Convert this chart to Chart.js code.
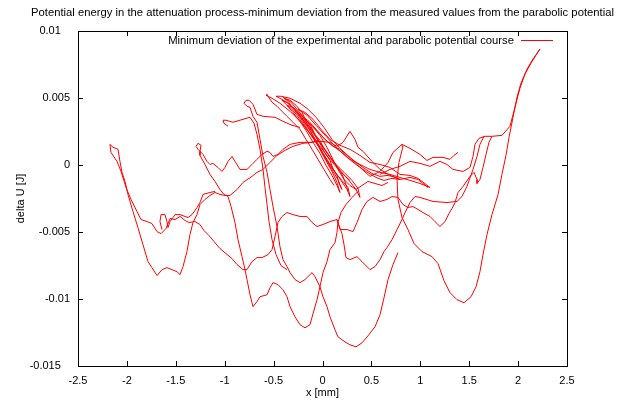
<!DOCTYPE html>
<html lang="en">
<head>
<meta charset="UTF-8">
<title>Potential energy in the attenuation process</title>
<script src="https://cdn.jsdelivr.net/npm/chart.js"></script>
<style>
  body { margin: 0; background: #fff; }
  canvas { display: block; }
</style>
</head>
<body>
<canvas id="chart" width="623" height="403"></canvas>
<script>
// tick labels
const xTicks = [-2.5, -2, -1.5, -1, -0.5, 0, 0.5, 1, 1.5, 2, 2.5];
const yTicks = [-0.015, -0.01, -0.005, 0, 0.005, 0.01];

// traced pieces of the measured curve, [x in mm, delta U in J]
// left turning point -> ... -> right turning point -> back into the middle
const swingWide = [
  [-0.046, 1.84e-3], [-0.107, 1.69e-3], [-0.199, 1.62e-3], [-0.302, 1.39e-3], [-0.384, 1.09e-3],
  [-0.465, 0.72e-3], [-0.537, 0.19e-3], [-0.608, -0.33e-3], [-0.670, -0.55e-3], [-0.721, -0.85e-3],
  [-0.813, -1.30e-3], [-0.874, -1.83e-3], [-0.946, -2.27e-3], [-0.997, -2.27e-3], [-1.048, -2.20e-3],
  [-1.099, -2.05e-3], [-1.150, -2.27e-3], [-1.202, -2.57e-3], [-1.253, -2.95e-3], [-1.283, -3.70e-3],
  [-1.324, -4.29e-3], [-1.355, -5.19e-3], [-1.386, -6.46e-3], [-1.426, -7.58e-3], [-1.457, -8.18e-3],
  [-1.488, -7.96e-3], [-1.539, -7.81e-3], [-1.590, -7.66e-3], [-1.641, -7.81e-3], [-1.692, -8.25e-3],
  [-1.744, -7.66e-3], [-1.784, -7.21e-3], [-1.836, -5.94e-3], [-1.887, -4.67e-3], [-1.938, -3.47e-3],
  [-1.989, -2.20e-3], [-2.019, -1.23e-3], [-2.050, -0.55e-3], [-2.071, 0.27e-3], [-2.091, 1.17e-3],
  [-2.142, 1.32e-3], [-2.173, 1.54e-3],
  [-2.163, 0.94e-3], [-2.101, 0.27e-3], [-2.060, -0.48e-3], [-2.009, -1.68e-3], [-1.958, -2.57e-3],
  [-1.897, -3.47e-3], [-1.856, -4.07e-3], [-1.795, -4.22e-3], [-1.744, -4.37e-3], [-1.692, -4.97e-3],
  [-1.651, -5.12e-3], [-1.600, -4.74e-3], [-1.559, -3.99e-3], [-1.508, -4.07e-3], [-1.457, -3.84e-3],
  [-1.406, -4.14e-3], [-1.365, -4.29e-3], [-1.304, -4.22e-3], [-1.253, -4.44e-3], [-1.212, -4.89e-3],
  [-1.160, -5.27e-3], [-1.109, -5.71e-3], [-1.048, -6.24e-3], [-0.987, -6.61e-3], [-0.925, -6.99e-3],
  [-0.874, -7.43e-3], [-0.813, -7.81e-3], [-0.772, -7.81e-3], [-0.721, -7.21e-3], [-0.670, -6.91e-3],
  [-0.619, -6.91e-3], [-0.557, -6.69e-3], [-0.516, -6.31e-3], [-0.486, -5.34e-3], [-0.455, -4.29e-3],
  [-0.414, -3.84e-3], [-0.363, -3.55e-3], [-0.302, -3.70e-3], [-0.230, -3.84e-3], [-0.158, -3.84e-3],
  [-0.107, -4.29e-3], [-0.056, -4.59e-3], [0.005, -4.44e-3], [0.077, -4.22e-3], [0.148, -4.07e-3],
  [0.169, -4.52e-3], [0.199, -5.12e-3], [0.220, -5.94e-3], [0.240, -6.91e-3], [0.281, -7.06e-3],
  [0.353, -6.84e-3], [0.404, -7.21e-3], [0.486, -7.81e-3], [0.537, -7.58e-3], [0.588, -7.06e-3],
  [0.629, -6.46e-3], [0.660, -6.16e-3], [0.711, -5.57e-3], [0.762, -4.82e-3], [0.813, -4.07e-3],
  [0.844, -3.55e-3], [0.895, -2.80e-3], [0.946, -2.35e-3], [0.997, -2.42e-3], [1.130, -2.72e-3],
  [1.273, -2.80e-3], [1.375, -2.72e-3], [1.426, -2.35e-3], [1.477, -1.60e-3], [1.539, -0.33e-3],
  [1.580, 0.64e-3], [1.610, 1.54e-3], [1.651, 2.14e-3], [1.733, 2.14e-3], [1.835, 2.21e-3],
  [1.917, 2.89e-3], [1.968, 4.31e-3], [2.019, 5.73e-3], [2.070, 6.78e-3], [2.132, 7.60e-3],
  [2.183, 8.20e-3], [2.213, 8.57e-3], [2.224, 8.65e-3],
  [2.203, 8.42e-3], [2.152, 7.91e-3], [2.091, 7.15e-3], [2.029, 6.10e-3], [1.989, 5.06e-3],
  [1.948, 3.56e-3], [1.907, 2.06e-3], [1.876, 0.72e-3], [1.835, -0.70e-3], [1.795, -2.20e-3],
  [1.733, -3.70e-3], [1.682, -5.19e-3], [1.641, -6.69e-3], [1.610, -7.96e-3], [1.570, -9.08e-3],
  [1.519, -9.83e-3], [1.447, -10.28e-3], [1.375, -10.05e-3], [1.304, -9.53e-3], [1.242, -8.63e-3],
  [1.181, -7.36e-3], [1.120, -6.84e-3], [1.017, -6.46e-3], [0.936, -5.86e-3], [0.874, -4.82e-3],
  [0.813, -3.92e-3], [0.772, -2.57e-3], [0.762, -1.08e-3], [0.782, 0.19e-3], [0.823, 1.39e-3],
  [0.813, 1.54e-3], [0.721, 0.94e-3], [0.670, 0.19e-3], [0.588, -0.48e-3], [0.486, -0.85e-3]
];

// the small swings at the end, the dense diagonal bundle
const swingsSmall = [
  [0.383, -0.18e-3], [0.281, 0.57e-3], [0.179, 1.24e-3], [0.097, 1.91e-3], [0.015, 2.81e-3],
  [-0.066, 3.56e-3], [-0.148, 4.16e-3], [-0.230, 4.61e-3], [-0.332, 4.98e-3], [-0.424, 5.13e-3],
  [-0.475, 5.13e-3], [-0.435, 4.98e-3], [-0.363, 4.68e-3], [-0.291, 4.16e-3], [-0.220, 3.56e-3],
  [-0.148, 2.81e-3], [-0.077, 1.91e-3], [-0.015, 1.02e-3], [0.046, 0.19e-3], [0.097, -0.48e-3],
  [0.148, -1.30e-3], [0.179, -2.05e-3], [0.148, -1.53e-3], [0.097, -0.78e-3], [0.036, -0.03e-3],
  [-0.026, 0.87e-3], [-0.097, 1.69e-3], [-0.169, 2.59e-3], [-0.240, 3.34e-3], [-0.312, 4.01e-3],
  [-0.373, 4.53e-3], [-0.414, 4.83e-3], [-0.353, 4.61e-3], [-0.271, 4.08e-3], [-0.199, 3.41e-3],
  [-0.128, 2.59e-3], [-0.056, 1.69e-3], [0.005, 0.87e-3], [0.066, 0.12e-3], [0.128, -0.55e-3],
  [0.199, -1.15e-3], [0.261, -1.68e-3], [0.281, -2.35e-3], [0.251, -1.83e-3], [0.189, -1.15e-3],
  [0.118, -0.40e-3], [0.046, 0.42e-3], [-0.026, 1.24e-3], [-0.107, 2.14e-3], [-0.189, 2.96e-3],
  [-0.261, 3.71e-3], [-0.322, 4.23e-3], [-0.363, 4.46e-3], [-0.302, 4.31e-3], [-0.230, 3.86e-3],
  [-0.158, 3.11e-3], [-0.087, 2.36e-3], [-0.015, 1.54e-3], [0.056, 0.79e-3], [0.138, 0.04e-3],
  [0.220, -0.55e-3], [0.302, -1.15e-3], [0.363, -1.75e-3], [0.383, -2.42e-3], [0.343, -1.83e-3],
  [0.271, -1.15e-3], [0.189, -0.48e-3], [0.107, 0.27e-3], [0.026, 1.17e-3], [-0.056, 1.99e-3],
  [-0.138, 2.81e-3], [-0.220, 3.56e-3], [-0.281, 4.01e-3], [-0.220, 3.71e-3], [-0.138, 3.26e-3],
  [-0.056, 2.59e-3], [0.026, 1.91e-3], [0.107, 1.39e-3], [0.179, 1.17e-3], [0.251, 0.72e-3],
  [0.332, 0.27e-3], [0.414, -0.18e-3], [0.506, -0.63e-3], [0.588, -0.85e-3], [0.660, -0.78e-3],
  [0.721, -0.85e-3], [0.792, -1.08e-3], [0.711, -1.00e-3], [0.629, -1.15e-3], [0.547, -0.93e-3],
  [0.445, -0.48e-3], [0.343, 0.04e-3], [0.240, 0.64e-3], [0.138, 1.32e-3], [0.036, 2.14e-3],
  [-0.066, 2.96e-3], [-0.158, 3.71e-3], [-0.251, 4.16e-3], [-0.179, 3.93e-3], [-0.097, 3.41e-3],
  [-0.015, 2.66e-3], [0.077, 1.91e-3], [0.179, 1.47e-3], [0.281, 1.17e-3], [0.383, 0.72e-3],
  [0.486, 0.19e-3], [0.588, 0.04e-3], [0.690, -0.18e-3], [0.792, -0.70e-3], [0.895, -0.78e-3],
  [0.977, -1.00e-3], [1.099, -1.68e-3], [0.997, -1.38e-3], [0.895, -1.15e-3], [0.792, -0.93e-3],
  [0.690, -0.70e-3], [0.588, -0.55e-3], [0.486, -0.33e-3], [0.383, 0.04e-3], [0.281, 0.42e-3],
  [0.210, 0.87e-3], [0.128, 1.32e-3], [0.046, 1.77e-3], [-0.026, 2.29e-3], [-0.107, 2.89e-3],
  [-0.179, 3.41e-3], [-0.107, 2.96e-3], [-0.026, 2.21e-3], [0.046, 1.32e-3], [0.107, 0.42e-3],
  [0.158, -0.33e-3], [0.220, -1.08e-3], [0.281, -1.53e-3], [0.343, -1.83e-3], [0.404, -1.53e-3],
  [0.465, -1.23e-3], [0.537, -1.38e-3], [0.608, -1.53e-3], [0.670, -1.30e-3]
];

// more of the bundle, turning at -0.58 mm
const swingsEdge = [
  [0.281, -1.15e-3], [0.179, -0.48e-3], [0.077, 0.42e-3], [-0.026, 1.39e-3], [-0.128, 2.36e-3],
  [-0.230, 3.26e-3], [-0.332, 4.01e-3], [-0.435, 4.61e-3], [-0.516, 4.98e-3], [-0.578, 5.21e-3],
  [-0.567, 5.28e-3], [-0.557, 5.13e-3], [-0.516, 4.68e-3], [-0.465, 4.38e-3], [-0.435, 4.16e-3],
  [-0.363, 3.63e-3], [-0.302, 3.19e-3], [-0.230, 2.66e-3], [-0.169, 1.91e-3], [-0.107, 1.17e-3],
  [-0.046, 0.42e-3], [0.015, -0.33e-3], [0.077, -1.08e-3], [0.118, -1.53e-3]
];

const swingsLast = [
  [-0.404, 5.06e-3], [-0.322, 4.68e-3], [-0.261, 4.16e-3], [-0.199, 3.63e-3], [-0.158, 3.11e-3],
  [-0.107, 2.66e-3], [-0.066, 2.06e-3], [-0.015, 1.47e-3], [0.026, 0.87e-3], [0.077, 0.34e-3],
  [0.107, -0.25e-3], [0.148, -0.78e-3], [0.169, -1.38e-3], [0.199, -1.83e-3],
  [0.158, -1.08e-3], [0.107, -0.48e-3], [0.066, 0.04e-3], [0.015, 0.64e-3], [-0.036, 1.32e-3],
  [-0.087, 1.91e-3], [-0.138, 2.44e-3], [-0.189, 3.11e-3], [-0.251, 3.78e-3], [-0.302, 4.23e-3],
  [-0.353, 4.76e-3], [-0.394, 4.98e-3],
  [-0.332, 4.83e-3], [-0.271, 4.46e-3], [-0.210, 3.93e-3], [-0.169, 3.34e-3], [-0.118, 2.89e-3],
  [-0.077, 2.29e-3], [-0.026, 1.84e-3], [0.015, 1.24e-3], [0.066, 0.72e-3], [0.118, 0.19e-3],
  [0.169, -0.33e-3], [0.210, -0.85e-3], [0.240, -1.45e-3], [0.261, -1.97e-3]
];

// wiggly swing around zero, turning at -1.27 mm, then the two dips at -0.71 and -0.18 mm
const swingMid = [
  [1.079, -1.68e-3], [0.977, -1.08e-3], [0.895, -0.93e-3], [0.792, -1.08e-3], [0.690, -0.78e-3],
  [0.588, -0.33e-3], [0.506, 0.27e-3], [0.414, 1.02e-3], [0.363, 1.32e-3], [0.332, 1.91e-3],
  [0.281, 2.51e-3], [0.210, 1.69e-3], [0.148, 1.39e-3], [0.077, 1.69e-3], [-0.026, 1.77e-3],
  [-0.128, 1.69e-3], [-0.230, 1.69e-3], [-0.332, 1.54e-3], [-0.404, 1.17e-3], [-0.455, 0.79e-3],
  [-0.506, 0.64e-3], [-0.537, 0.94e-3], [-0.567, 1.02e-3], [-0.619, 0.79e-3], [-0.670, 0.42e-3],
  [-0.721, 0.04e-3], [-0.772, -0.33e-3], [-0.844, -0.33e-3], [-0.895, 0.27e-3], [-0.925, 0.64e-3],
  [-0.966, 0.27e-3], [-0.997, -0.18e-3], [-1.028, -0.48e-3], [-1.069, -0.18e-3], [-1.120, 0.12e-3],
  [-1.150, 0.04e-3], [-1.181, 0.27e-3], [-1.222, 0.79e-3], [-1.273, 1.17e-3], [-1.293, 1.39e-3],
  [-1.273, 1.62e-3], [-1.242, 1.47e-3], [-1.253, 1.02e-3], [-1.253, 0.72e-3], [-1.202, 0.04e-3],
  [-1.150, -0.70e-3], [-1.099, -1.23e-3], [-1.048, -1.83e-3], [-1.007, -2.20e-3], [-0.966, -2.35e-3],
  [-0.935, -3.10e-3], [-0.895, -4.29e-3], [-0.864, -5.57e-3], [-0.823, -6.84e-3], [-0.792, -7.81e-3],
  [-0.772, -8.55e-3], [-0.741, -9.68e-3], [-0.711, -10.57e-3], [-0.670, -10.20e-3], [-0.639, -9.83e-3],
  [-0.567, -9.68e-3], [-0.537, -9.16e-3], [-0.506, -8.78e-3], [-0.455, -8.93e-3], [-0.404, -9.31e-3],
  [-0.363, -9.83e-3], [-0.332, -10.57e-3], [-0.281, -11.33e-3], [-0.230, -11.92e-3], [-0.179, -12.15e-3],
  [-0.128, -11.92e-3], [-0.097, -11.10e-3], [-0.056, -10.05e-3], [-0.026, -9.08e-3], [0.005, -8.03e-3],
  [0.046, -7.21e-3], [0.077, -6.31e-3], [0.128, -5.79e-3], [0.148, -5.04e-3], [0.158, -4.29e-3],
  [0.189, -3.55e-3], [0.240, -2.95e-3], [0.302, -2.42e-3], [0.363, -1.97e-3]
];

// branch to the dip at 1.2 mm and the hook at 1.58 mm
const swingRight = [
  [0.148, -4.07e-3], [0.179, -4.82e-3], [0.251, -4.82e-3], [0.312, -4.97e-3], [0.353, -4.29e-3],
  [0.404, -3.32e-3], [0.455, -2.72e-3], [0.516, -2.42e-3], [0.588, -2.72e-3], [0.660, -2.57e-3],
  [0.711, -2.35e-3], [0.772, -2.42e-3], [0.823, -2.95e-3], [0.874, -3.17e-3], [0.925, -3.10e-3],
  [0.977, -3.32e-3], [1.028, -3.55e-3], [1.099, -3.84e-3], [1.150, -4.22e-3], [1.201, -4.59e-3],
  [1.253, -4.22e-3], [1.293, -3.62e-3], [1.324, -3.25e-3], [1.355, -2.80e-3], [1.386, -2.05e-3],
  [1.437, -1.60e-3], [1.508, -0.85e-3], [1.549, -0.55e-3], [1.580, -1.08e-3], [1.580, -1.38e-3],
  [1.610, -1.08e-3], [1.641, -0.18e-3], [1.672, 0.79e-3], [1.702, 1.69e-3], [1.733, 2.14e-3]
];

const swingUpperRight = [
  [0.588, -0.70e-3], [0.690, -0.33e-3], [0.792, -0.10e-3], [0.895, 0.27e-3], [0.997, 0.12e-3],
  [1.099, -0.10e-3], [1.201, 0.27e-3], [1.273, 0.04e-3], [1.334, -0.33e-3], [1.437, -0.48e-3],
  [1.508, -0.18e-3], [1.539, 0.64e-3], [1.559, 1.54e-3], [1.600, 1.99e-3], [1.662, 2.14e-3]
];

const swingTail = [
  [0.813, 1.54e-3], [0.895, 1.24e-3], [0.997, 0.79e-3], [1.068, 0.34e-3], [1.130, 0.57e-3],
  [1.232, 0.57e-3], [1.304, 0.42e-3], [1.345, 0.72e-3], [1.386, 0.94e-3]
];

// swing turning at -0.78 mm that runs into the deepest dip at 0.34 mm
const swingDeep = [
  [-0.230, 2.81e-3], [-0.312, 2.96e-3], [-0.404, 3.26e-3], [-0.486, 3.56e-3], [-0.608, 3.63e-3],
  [-0.670, 3.78e-3], [-0.711, 4.53e-3], [-0.751, 4.83e-3], [-0.782, 4.83e-3], [-0.803, 4.61e-3],
  [-0.772, 4.38e-3], [-0.741, 4.31e-3], [-0.711, 3.63e-3], [-0.670, 3.19e-3], [-0.639, 1.91e-3],
  [-0.608, 0.64e-3], [-0.567, -0.55e-3], [-0.537, -1.83e-3], [-0.506, -3.10e-3], [-0.465, -4.59e-3],
  [-0.435, -6.09e-3], [-0.404, -7.06e-3], [-0.363, -7.58e-3], [-0.332, -8.03e-3], [-0.281, -8.55e-3],
  [-0.230, -8.78e-3], [-0.179, -8.55e-3], [-0.107, -8.03e-3], [-0.077, -8.33e-3], [-0.026, -9.08e-3],
  [0.005, -9.83e-3], [0.046, -10.57e-3], [0.077, -11.33e-3], [0.128, -12.30e-3], [0.158, -12.82e-3],
  [0.230, -13.20e-3], [0.281, -13.42e-3], [0.343, -13.57e-3], [0.404, -13.27e-3], [0.465, -12.75e-3],
  [0.537, -12.07e-3], [0.588, -11.18e-3], [0.629, -9.90e-3], [0.670, -8.55e-3], [0.721, -7.43e-3],
  [0.772, -6.54e-3]
];

const swingSteep = [
  [-0.966, 2.89e-3], [-1.007, 3.11e-3], [-1.017, 3.34e-3], [-0.987, 3.34e-3], [-0.915, 3.19e-3],
  [-0.813, 3.41e-3], [-0.741, 3.56e-3], [-0.700, 3.11e-3], [-0.670, 2.29e-3], [-0.639, 1.17e-3],
  [-0.608, -0.33e-3], [-0.588, -1.68e-3], [-0.567, -2.95e-3], [-0.547, -4.22e-3], [-0.516, -5.57e-3],
  [-0.475, -6.69e-3], [-0.424, -7.51e-3], [-0.363, -7.81e-3]
];

// hook at -1.65 mm
const swingHook = [
  [-1.099, -1.97e-3], [-1.150, -2.05e-3], [-1.222, -2.20e-3], [-1.253, -2.80e-3], [-1.283, -3.17e-3],
  [-1.334, -3.70e-3], [-1.375, -3.92e-3], [-1.406, -3.84e-3], [-1.457, -3.70e-3], [-1.508, -3.70e-3],
  [-1.529, -3.92e-3], [-1.559, -4.22e-3], [-1.580, -4.67e-3], [-1.590, -4.22e-3], [-1.611, -3.70e-3],
  [-1.651, -3.70e-3], [-1.662, -4.22e-3], [-1.641, -4.82e-3]
];

const pieces = [swingWide.concat(swingsSmall), swingsEdge, swingsLast, swingMid, swingRight,
  swingUpperRight, swingTail, swingDeep, swingSteep, swingHook];

const points = [];
pieces.forEach((p, i) => {
  if (i > 0) points.push({ x: null, y: null });
  p.forEach(([x, y]) => points.push({ x, y }));
});

const font = { family: "'Liberation Sans', Arial, sans-serif", size: 11 };

const gnuFrame = {
  id: 'gnuFrame',
  afterDatasetsDraw(chart) {
    const { ctx, chartArea: a, scales: { x, y } } = chart;
    ctx.save();
    ctx.strokeStyle = '#000';
    ctx.lineWidth = 1;
    ctx.beginPath();
    xTicks.forEach(v => {
      const px = Math.round(x.getPixelForValue(v)) + 0.5;
      ctx.moveTo(px, a.bottom); ctx.lineTo(px, a.bottom - 5);
      ctx.moveTo(px, a.top); ctx.lineTo(px, a.top + 5);
    });
    yTicks.forEach(v => {
      const py = Math.round(y.getPixelForValue(v)) + 0.5;
      ctx.moveTo(a.left, py); ctx.lineTo(a.left + 5, py);
      ctx.moveTo(a.right, py); ctx.lineTo(a.right - 5, py);
    });
    ctx.stroke();
    ctx.strokeRect(Math.round(a.left) + 0.5, Math.round(a.top) + 0.5,
      Math.round(a.right - a.left), Math.round(a.bottom - a.top));

    // title and key
    ctx.fillStyle = '#000';
    ctx.font = "11.25px 'Liberation Sans', Arial, sans-serif";
    ctx.textBaseline = 'middle';
    ctx.textAlign = 'center';
    ctx.fillText('Potential energy in the attenuation process-minimum deviation from the measured values from the parabolic potential',
      (a.left + a.right) / 2, 13);
    ctx.textAlign = 'right';
    ctx.fillText('Minimum deviation of the experimental and parabolic potential course', a.right - 53, a.top + 10);
    ctx.strokeStyle = '#ff0000';
    ctx.beginPath();
    ctx.moveTo(a.right - 46, a.top + 9.5);
    ctx.lineTo(a.right - 14, a.top + 9.5);
    ctx.stroke();
    ctx.restore();
  }
};

new Chart(document.getElementById('chart'), {
  type: 'scatter',
  data: {
    datasets: [{
      label: 'Minimum deviation of the experimental and parabolic potential course',
      data: points,
      showLine: true,
      spanGaps: false,
      borderColor: '#ff0000',
      borderWidth: 1,
      pointRadius: 0,
      tension: 0
    }]
  },
  options: {
    responsive: false,
    animation: false,
    devicePixelRatio: 1,
    layout: { padding: { top: 31, right: 56, left: 0, bottom: 0 } },
    plugins: { legend: { display: false }, title: { display: false }, tooltip: { enabled: false } },
    scales: {
      x: {
        type: 'linear', min: -2.5, max: 2.5,
        afterBuildTicks: s => { s.ticks = xTicks.map(v => ({ value: v })); },
        afterFit: s => { s.height = 37; },
        grid: { display: false, drawTicks: false },
        border: { display: false },
        ticks: { padding: 8, color: '#000', font, maxRotation: 0, autoSkip: false,
          callback: v => String(Math.round(v * 10) / 10) },
        title: { display: true, text: 'x [mm]', color: '#000', font, padding: { top: 0, bottom: 3 } }
      },
      y: {
        type: 'linear', min: -0.015, max: 0.01,
        afterBuildTicks: s => { s.ticks = yTicks.map(v => ({ value: v })); },
        afterFit: s => { s.width = 78; },
        grid: { display: false, drawTicks: false },
        border: { display: false },
        ticks: { padding: 8, color: '#000', font, autoSkip: false,
          callback: v => {
            const t = String(Math.round(v * 1000) / 1000);
            return (v === 0.01 || v === -0.015) ? t + '   ' : t;
          } },
        title: { display: true, text: 'delta U [J]', color: '#000', font, padding: { top: 14, bottom: 0 } }
      }
    }
  },
  plugins: [gnuFrame]
});
</script>
</body>
</html>
